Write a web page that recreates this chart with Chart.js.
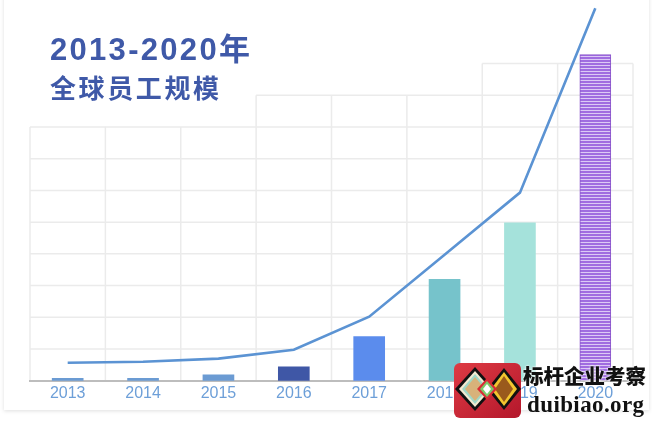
<!DOCTYPE html>
<html>
<head>
<meta charset="utf-8">
<script src="https://cdn.jsdelivr.net/npm/chart.js@4/dist/chart.umd.min.js"></script>
<style>
  html,body{margin:0;padding:0;background:#fff;}
  #wrap{position:relative;width:652px;height:426px;overflow:hidden;background:#fff;}
  #card{position:absolute;left:4px;top:-20px;width:645px;height:430px;background:#fff;
        box-shadow:0 1px 4px rgba(0,0,0,0.13);}
  canvas{position:absolute;left:0;top:0;}
  .t1{position:absolute;left:50px;top:34px;font:bold 31px "Liberation Sans","Noto Sans CJK SC",sans-serif;
      color:#3f59a8;letter-spacing:2.3px;white-space:nowrap;line-height:1;}
  .t2{position:absolute;left:50px;top:74px;font:bold 26px "Noto Sans CJK SC",sans-serif;
      color:#3f59a8;letter-spacing:2.6px;white-space:nowrap;line-height:1;}
  #logo{position:absolute;left:454px;top:363px;width:67px;height:55px;}
  .w1{position:absolute;left:523px;top:365px;font:900 20.5px "Noto Sans CJK SC",serif;color:#111;
      white-space:nowrap;line-height:1;text-shadow:0 0 2px #fff,0 0 2px #fff;}
  .w2{position:absolute;left:527px;top:393px;font:bold 23px "Liberation Serif","DejaVu Serif",serif;color:#111;
      white-space:nowrap;line-height:1;letter-spacing:0.4px;text-shadow:0 0 2px #fff,0 0 2px #fff;}
</style>
</head>
<body>
<div id="wrap">
  <div id="card"></div>
  <canvas id="c" width="652" height="426" style="width:652px;height:426px"></canvas>
  <div class="t1">2013-2020年</div>
  <div class="t2">全球员工规模</div>
  <svg id="logo" viewBox="0 0 67 55">
    <defs>
      <linearGradient id="rg" x1="0" y1="0" x2="1" y2="1">
        <stop offset="0" stop-color="#de3b44"/>
        <stop offset="1" stop-color="#b4172b"/>
      </linearGradient>
    </defs>
    <rect x="0" y="0" width="67" height="55" rx="6" fill="url(#rg)"/>
    <polygon points="50,5 67,26 50,47 33,26" fill="#111"/>
    <polygon points="50,9 63,26 50,43 37,26" fill="#f3c52f"/>
    <polygon points="50,13 59,26 50,39 41,26" fill="#9a5a1c"/>
    <polygon points="21,4 41,26 21,48 1,26" fill="#111"/>
    <polygon points="21,8 37,26 21,44 5,26" fill="#f4ead0"/>
    <polygon points="21,11 34,26 21,41 8,26" fill="#9fd8c8"/>
    <polygon points="21,14 31,26 21,38 11,26" fill="#d8b27a"/>
    <polygon points="33,15 43,26 33,37 23,26" fill="#d92b36"/>
    <polygon points="33,18 40,26 33,34 26,26" fill="#7cc96a"/>
    <polygon points="33,21 37,26 33,31 29,26" fill="#fff"/>
  </svg>
  <div class="w1">标杆企业考察</div>
  <div class="w2">duibiao.org</div>
</div>
<script>
const categories = ['2013','2014','2015','2016','2017','2018','2019','2020'];
const barValues  = [0.08, 0.08, 0.19, 0.44, 1.39, 3.2, 4.98, 10.28];
const lineValues = [0.57, 0.60, 0.70, 0.98, 2.02, 3.97, 5.93, 11.74];
const barColors  = ['#6b9bd3','#6b9bd3','#6b9bd3','#3f57a6','#5b8ced','#76c3cb','#a5e2db', null];

const pc = document.createElement('canvas');
pc.width = 4; pc.height = 3;
const pctx = pc.getContext('2d');
pctx.fillStyle = '#dcc9f5'; pctx.fillRect(0,0,4,3);
pctx.fillStyle = '#a06ce0'; pctx.fillRect(0,0,4,2);
const purple = document.getElementById('c').getContext('2d').createPattern(pc,'repeat');
const fills = barColors.map(c => c || purple);

const gridTops = [8,8,8,9,9,9,10,10];
const stepGrid = {
  id:'stepGrid',
  beforeDraw(chart){
    const {ctx, scales:{x,y}} = chart;
    const n = categories.length;
    const half = (x.getPixelForValue(1) - x.getPixelForValue(0))/2;
    ctx.save();
    ctx.strokeStyle = '#ebebeb';
    ctx.lineWidth = 1.5;
    for(let i=0;i<=n;i++){
      const top = Math.max(i>0?gridTops[i-1]:0, i<n?gridTops[i]:0);
      const px = i<n ? x.getPixelForValue(i)-half : x.getPixelForValue(n-1)+half;
      ctx.beginPath(); ctx.moveTo(px, y.getPixelForValue(0)); ctx.lineTo(px, y.getPixelForValue(top)); ctx.stroke();
    }
    const maxTop = Math.max(...gridTops);
    for(let v=1; v<=maxTop; v++){
      let start=-1, end=-1;
      for(let i=0;i<n;i++){ if(gridTops[i]>=v){ if(start<0) start=i; end=i; } }
      if(start<0) continue;
      const x0 = x.getPixelForValue(start)-half, x1 = x.getPixelForValue(end)+half;
      const py = y.getPixelForValue(v);
      ctx.beginPath(); ctx.moveTo(x0,py); ctx.lineTo(x1,py); ctx.stroke();
    }
    ctx.restore();
  }
};

new Chart(document.getElementById('c'), {
  data:{
    labels: categories,
    datasets:[
      { type:'line', data: lineValues, borderColor:'#5b93d3', borderWidth:2.6, pointRadius:0,
        tension:0, fill:false, order:0, clip:false },
      { type:'bar', data: barValues, backgroundColor: fills, barThickness:31,
        borderColor: barColors.map(c => c ? 'rgba(0,0,0,0)' : '#8a55cc'),
        borderWidth: barColors.map(c => c ? 0 : 1), borderSkipped:'bottom', order:1 }
    ]
  },
  options:{
    responsive:false,
    animation:false,
    layout:{ padding:{ left:30, right:19, top:0, bottom:20 } },
    plugins:{ legend:{display:false}, tooltip:{enabled:false} },
    scales:{
      x:{
        grid:{ display:false, drawTicks:false },
        border:{ display:true, color:'#bdbdbd', width:2 },
        ticks:{ color:'#6d9fd8', font:{ family:'"Liberation Sans", Arial, sans-serif', size:16 }, padding:3 }
      },
      y:{ display:false, min:0, max:12 }
    }
  },
  plugins:[stepGrid]
});
</script>
</body>
</html>
